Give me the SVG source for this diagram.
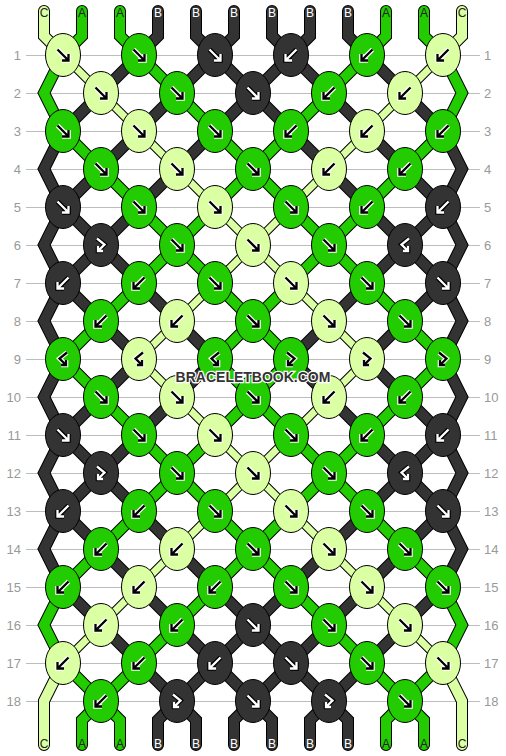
<svg xmlns="http://www.w3.org/2000/svg" width="506" height="756" viewBox="0 0 506 756">
<style>
.grid{stroke:#bdbdbd;stroke-width:1}
.rl{font-family:"Liberation Sans",Arial,sans-serif;font-size:13px;fill:#999}
.tl{font-family:"Liberation Sans",Arial,sans-serif;font-size:12px;text-anchor:middle}
.dk{fill:#222}.wt{fill:#fff}
.ol{fill:none;stroke:#000;stroke-width:12;stroke-linecap:round;stroke-linejoin:miter}
.olt{fill:none;stroke:#000;stroke-width:9;stroke-linecap:round}
.sA{fill:none;stroke:#22cc00;stroke-width:10;stroke-linecap:round;stroke-linejoin:miter}
.sB{fill:none;stroke:#333;stroke-width:10;stroke-linecap:round;stroke-linejoin:miter}
.sC{fill:none;stroke:#dbffa3;stroke-width:10;stroke-linecap:round;stroke-linejoin:miter}
.sCt{fill:none;stroke:#dbffa3;stroke-width:7;stroke-linecap:round}
ellipse{stroke:#000;stroke-width:1}
.kA ellipse{fill:#22cc00}.kB ellipse{fill:#333}.kC ellipse{fill:#dbffa3}
.hl{fill:none;stroke:#fff;stroke-width:4.6}
.ar{fill:none;stroke:#000;stroke-width:2.3}
.kB .hl{stroke:#000}.kB .ar{stroke:#fff}
.wm{font-family:"Liberation Sans",Arial,sans-serif;font-weight:bold;font-size:14px;fill:#333;stroke:#fff;stroke-width:2.5;paint-order:stroke;text-anchor:middle}
</style>
<defs>
<path id="F" d="M-5.5,-5.5 L5.5,5.5 M5.5,-1 L5.5,5.5 L-1,5.5"/>
<path id="B" d="M5.5,-5.5 L-5.5,5.5 M-5.5,-1 L-5.5,5.5 L1,5.5"/>
<path id="FB" d="M-4,-6.5 L3.5,-0.5 L-3,6 M-3,1 L-3,6 L2,6"/>
<path id="BF" d="M4,-6.5 L-3.5,-0.5 L3,6 M3,1 L3,6 L-2,6"/>
<path id="pC" d="M63,55L101,93M443,55L405,93M101,93L139,131M405,93L367,131M139,131L177,169M367,131L329,169M177,169L215,207M329,169L291,207M215,207L253,245M291,207L253,245M253,245L215,283M253,245L291,283M215,283L177,321M291,283L329,321M177,321L139,359M329,321L367,359M139,359L177,397M367,359L329,397M177,397L215,435M329,397L291,435M215,435L253,473M291,435L253,473M253,473L215,511M253,473L291,511M215,511L177,549M291,511L329,549M177,549L139,587M329,549L367,587M139,587L101,625M367,587L405,625M101,625L63,663M405,625L443,663"/>
<path id="pA" d="M139,55L177,93M367,55L329,93M177,93L215,131M329,93L291,131M63,131L101,169M215,131L253,169M291,131L253,169M443,131L405,169M101,169L139,207M253,169L215,207M253,169L291,207M405,169L367,207M139,207L177,245M215,207L177,245M291,207L329,245M367,207L329,245M177,245L139,283M177,245L215,283M329,245L291,283M329,245L367,283M139,283L101,321M215,283L253,321M291,283L253,321M367,283L405,321M101,321L63,359M253,321L215,359M253,321L291,359M405,321L443,359M63,359L101,397M215,359L253,397M291,359L253,397M443,359L405,397M101,397L139,435M253,397L215,435M253,397L291,435M405,397L367,435M139,435L177,473M215,435L177,473M291,435L329,473M367,435L329,473M177,473L139,511M177,473L215,511M329,473L291,511M329,473L367,511M139,511L101,549M215,511L253,549M291,511L253,549M367,511L405,549M101,549L63,587M253,549L215,587M253,549L291,587M405,549L443,587M215,587L177,625M291,587L329,625M177,625L139,663M329,625L367,663M63,663L101,701M139,663L101,701M367,663L405,701M443,663L405,701"/>
<path id="pB" d="M139,55L101,93M215,55L177,93M215,55L253,93M291,55L253,93M291,55L329,93M367,55L405,93M101,93L63,131M177,93L139,131M253,93L215,131M253,93L291,131M329,93L367,131M405,93L443,131M139,131L101,169M215,131L177,169M291,131L329,169M367,131L405,169M101,169L63,207M177,169L139,207M329,169L367,207M405,169L443,207M63,207L101,245M139,207L101,245M367,207L405,245M443,207L405,245M101,245L63,283M101,245L139,283M405,245L367,283M405,245L443,283M63,283L101,321M139,283L177,321M367,283L329,321M443,283L405,321M101,321L139,359M177,321L215,359M329,321L291,359M405,321L367,359M139,359L101,397M215,359L177,397M291,359L329,397M367,359L405,397M101,397L63,435M177,397L139,435M329,397L367,435M405,397L443,435M63,435L101,473M139,435L101,473M367,435L405,473M443,435L405,473M101,473L63,511M101,473L139,511M405,473L367,511M405,473L443,511M63,511L101,549M139,511L177,549M367,511L329,549M443,511L405,549M101,549L139,587M177,549L215,587M329,549L291,587M405,549L367,587M63,587L101,625M139,587L177,625M215,587L253,625M291,587L253,625M367,587L329,625M443,587L405,625M101,625L139,663M177,625L215,663M253,625L215,663M253,625L291,663M329,625L291,663M405,625L367,663M139,663L177,701M215,663L177,701M215,663L253,701M291,663L253,701M291,663L329,701M367,663L329,701"/>
<path id="tA" d="M82,11L82,36L63,55M120,11L120,36L139,55M386,11L386,36L367,55M424,11L424,36L443,55M101,701L82,720L82,745M101,701L120,720L120,745M405,701L386,720L386,745M405,701L424,720L424,745M63,55L44,93L63,131M443,55L462,93L443,131M63,587L44,625L63,663M443,587L462,625L443,663"/>
<path id="tB" d="M158,11L158,36L139,55M196,11L196,36L215,55M234,11L234,36L215,55M272,11L272,36L291,55M310,11L310,36L291,55M348,11L348,36L367,55M177,701L158,720L158,745M177,701L196,720L196,745M253,701L234,720L234,745M253,701L272,720L272,745M329,701L310,720L310,745M329,701L348,720L348,745M63,131L44,169L63,207L44,245L63,283L44,321L63,359L44,397L63,435L44,473L63,511L44,549L63,587M443,131L462,169L443,207L462,245L443,283L462,321L443,359L462,397L443,435L462,473L443,511L462,549L443,587"/>
<path id="tC" d="M44,11L44,36L63,55M462,11L462,36L443,55M63,663L44,701L44,745M443,663L462,701L462,745"/>
</defs>
<g id="grid">
<path class="grid" d="M26,55.5H480M26,93.5H480M26,131.5H480M26,169.5H480M26,207.5H480M26,245.5H480M26,283.5H480M26,321.5H480M26,359.5H480M26,397.5H480M26,435.5H480M26,473.5H480M26,511.5H480M26,549.5H480M26,587.5H480M26,625.5H480M26,663.5H480M26,701.5H480"/>
<g class="rl" text-anchor="end">
<text x="21" y="60">1</text><text x="21" y="98">2</text><text x="21" y="136">3</text><text x="21" y="174">4</text><text x="21" y="212">5</text><text x="21" y="250">6</text><text x="21" y="288">7</text><text x="21" y="326">8</text><text x="21" y="364">9</text><text x="21" y="402">10</text><text x="21" y="440">11</text><text x="21" y="478">12</text><text x="21" y="516">13</text><text x="21" y="554">14</text><text x="21" y="592">15</text><text x="21" y="630">16</text><text x="21" y="668">17</text><text x="21" y="706">18</text>
</g>
<g class="rl" text-anchor="start">
<text x="484" y="60">1</text><text x="484" y="98">2</text><text x="484" y="136">3</text><text x="484" y="174">4</text><text x="484" y="212">5</text><text x="484" y="250">6</text><text x="484" y="288">7</text><text x="484" y="326">8</text><text x="484" y="364">9</text><text x="484" y="402">10</text><text x="484" y="440">11</text><text x="484" y="478">12</text><text x="484" y="516">13</text><text x="484" y="554">14</text><text x="484" y="592">15</text><text x="484" y="630">16</text><text x="484" y="668">17</text><text x="484" y="706">18</text>
</g>
</g>
<g id="connectors">
<use href="#tA" class="ol"/><use href="#tB" class="ol"/><use href="#tC" class="ol"/>
<use href="#pA" class="ol"/><use href="#pB" class="ol"/><use href="#pC" class="olt"/>
<use href="#tA" class="sA"/><use href="#tB" class="sB"/><use href="#tC" class="sC"/>
<use href="#pA" class="sA"/><use href="#pB" class="sB"/><use href="#pC" class="sCt"/>
</g>
<g id="string-labels">
<text class="tl dk" x="44" y="17">C</text><text class="tl dk" x="82" y="17">A</text><text class="tl dk" x="120" y="17">A</text><text class="tl wt" x="158" y="17">B</text><text class="tl wt" x="196" y="17">B</text><text class="tl wt" x="234" y="17">B</text><text class="tl wt" x="272" y="17">B</text><text class="tl wt" x="310" y="17">B</text><text class="tl wt" x="348" y="17">B</text><text class="tl dk" x="386" y="17">A</text><text class="tl dk" x="424" y="17">A</text><text class="tl dk" x="462" y="17">C</text>
<text class="tl dk" x="44" y="748">C</text><text class="tl dk" x="82" y="748">A</text><text class="tl dk" x="120" y="748">A</text><text class="tl wt" x="158" y="748">B</text><text class="tl wt" x="196" y="748">B</text><text class="tl wt" x="234" y="748">B</text><text class="tl wt" x="272" y="748">B</text><text class="tl wt" x="310" y="748">B</text><text class="tl wt" x="348" y="748">B</text><text class="tl dk" x="386" y="748">A</text><text class="tl dk" x="424" y="748">A</text><text class="tl dk" x="462" y="748">C</text>
</g>
<g id="knots">
<g id="k1-1" class="kC" transform="translate(63,55)"><ellipse rx="17.5" ry="21.5"/><use href="#F" class="hl"/><use href="#F" class="ar"/></g>
<g id="k1-2" class="kA" transform="translate(139,55)"><ellipse rx="17.5" ry="21.5"/><use href="#F" class="hl"/><use href="#F" class="ar"/></g>
<g id="k1-3" class="kB" transform="translate(215,55)"><ellipse rx="17.5" ry="21.5"/><use href="#F" class="hl"/><use href="#F" class="ar"/></g>
<g id="k1-4" class="kB" transform="translate(291,55)"><ellipse rx="17.5" ry="21.5"/><use href="#B" class="hl"/><use href="#B" class="ar"/></g>
<g id="k1-5" class="kA" transform="translate(367,55)"><ellipse rx="17.5" ry="21.5"/><use href="#B" class="hl"/><use href="#B" class="ar"/></g>
<g id="k1-6" class="kC" transform="translate(443,55)"><ellipse rx="17.5" ry="21.5"/><use href="#B" class="hl"/><use href="#B" class="ar"/></g>
<g id="k2-1" class="kC" transform="translate(101,93)"><ellipse rx="17.5" ry="21.5"/><use href="#F" class="hl"/><use href="#F" class="ar"/></g>
<g id="k2-2" class="kA" transform="translate(177,93)"><ellipse rx="17.5" ry="21.5"/><use href="#F" class="hl"/><use href="#F" class="ar"/></g>
<g id="k2-3" class="kB" transform="translate(253,93)"><ellipse rx="17.5" ry="21.5"/><use href="#F" class="hl"/><use href="#F" class="ar"/></g>
<g id="k2-4" class="kA" transform="translate(329,93)"><ellipse rx="17.5" ry="21.5"/><use href="#B" class="hl"/><use href="#B" class="ar"/></g>
<g id="k2-5" class="kC" transform="translate(405,93)"><ellipse rx="17.5" ry="21.5"/><use href="#B" class="hl"/><use href="#B" class="ar"/></g>
<g id="k3-1" class="kA" transform="translate(63,131)"><ellipse rx="17.5" ry="21.5"/><use href="#F" class="hl"/><use href="#F" class="ar"/></g>
<g id="k3-2" class="kC" transform="translate(139,131)"><ellipse rx="17.5" ry="21.5"/><use href="#F" class="hl"/><use href="#F" class="ar"/></g>
<g id="k3-3" class="kA" transform="translate(215,131)"><ellipse rx="17.5" ry="21.5"/><use href="#F" class="hl"/><use href="#F" class="ar"/></g>
<g id="k3-4" class="kA" transform="translate(291,131)"><ellipse rx="17.5" ry="21.5"/><use href="#B" class="hl"/><use href="#B" class="ar"/></g>
<g id="k3-5" class="kC" transform="translate(367,131)"><ellipse rx="17.5" ry="21.5"/><use href="#B" class="hl"/><use href="#B" class="ar"/></g>
<g id="k3-6" class="kA" transform="translate(443,131)"><ellipse rx="17.5" ry="21.5"/><use href="#B" class="hl"/><use href="#B" class="ar"/></g>
<g id="k4-1" class="kA" transform="translate(101,169)"><ellipse rx="17.5" ry="21.5"/><use href="#F" class="hl"/><use href="#F" class="ar"/></g>
<g id="k4-2" class="kC" transform="translate(177,169)"><ellipse rx="17.5" ry="21.5"/><use href="#F" class="hl"/><use href="#F" class="ar"/></g>
<g id="k4-3" class="kA" transform="translate(253,169)"><ellipse rx="17.5" ry="21.5"/><use href="#F" class="hl"/><use href="#F" class="ar"/></g>
<g id="k4-4" class="kC" transform="translate(329,169)"><ellipse rx="17.5" ry="21.5"/><use href="#B" class="hl"/><use href="#B" class="ar"/></g>
<g id="k4-5" class="kA" transform="translate(405,169)"><ellipse rx="17.5" ry="21.5"/><use href="#B" class="hl"/><use href="#B" class="ar"/></g>
<g id="k5-1" class="kB" transform="translate(63,207)"><ellipse rx="17.5" ry="21.5"/><use href="#F" class="hl"/><use href="#F" class="ar"/></g>
<g id="k5-2" class="kA" transform="translate(139,207)"><ellipse rx="17.5" ry="21.5"/><use href="#F" class="hl"/><use href="#F" class="ar"/></g>
<g id="k5-3" class="kC" transform="translate(215,207)"><ellipse rx="17.5" ry="21.5"/><use href="#F" class="hl"/><use href="#F" class="ar"/></g>
<g id="k5-4" class="kA" transform="translate(291,207)"><ellipse rx="17.5" ry="21.5"/><use href="#F" class="hl"/><use href="#F" class="ar"/></g>
<g id="k5-5" class="kA" transform="translate(367,207)"><ellipse rx="17.5" ry="21.5"/><use href="#B" class="hl"/><use href="#B" class="ar"/></g>
<g id="k5-6" class="kB" transform="translate(443,207)"><ellipse rx="17.5" ry="21.5"/><use href="#B" class="hl"/><use href="#B" class="ar"/></g>
<g id="k6-1" class="kB" transform="translate(101,245)"><ellipse rx="17.5" ry="21.5"/><use href="#FB" class="hl"/><use href="#FB" class="ar"/></g>
<g id="k6-2" class="kA" transform="translate(177,245)"><ellipse rx="17.5" ry="21.5"/><use href="#F" class="hl"/><use href="#F" class="ar"/></g>
<g id="k6-3" class="kC" transform="translate(253,245)"><ellipse rx="17.5" ry="21.5"/><use href="#F" class="hl"/><use href="#F" class="ar"/></g>
<g id="k6-4" class="kA" transform="translate(329,245)"><ellipse rx="17.5" ry="21.5"/><use href="#F" class="hl"/><use href="#F" class="ar"/></g>
<g id="k6-5" class="kB" transform="translate(405,245)"><ellipse rx="17.5" ry="21.5"/><use href="#BF" class="hl"/><use href="#BF" class="ar"/></g>
<g id="k7-1" class="kB" transform="translate(63,283)"><ellipse rx="17.5" ry="21.5"/><use href="#B" class="hl"/><use href="#B" class="ar"/></g>
<g id="k7-2" class="kA" transform="translate(139,283)"><ellipse rx="17.5" ry="21.5"/><use href="#B" class="hl"/><use href="#B" class="ar"/></g>
<g id="k7-3" class="kA" transform="translate(215,283)"><ellipse rx="17.5" ry="21.5"/><use href="#F" class="hl"/><use href="#F" class="ar"/></g>
<g id="k7-4" class="kC" transform="translate(291,283)"><ellipse rx="17.5" ry="21.5"/><use href="#F" class="hl"/><use href="#F" class="ar"/></g>
<g id="k7-5" class="kA" transform="translate(367,283)"><ellipse rx="17.5" ry="21.5"/><use href="#F" class="hl"/><use href="#F" class="ar"/></g>
<g id="k7-6" class="kB" transform="translate(443,283)"><ellipse rx="17.5" ry="21.5"/><use href="#F" class="hl"/><use href="#F" class="ar"/></g>
<g id="k8-1" class="kA" transform="translate(101,321)"><ellipse rx="17.5" ry="21.5"/><use href="#B" class="hl"/><use href="#B" class="ar"/></g>
<g id="k8-2" class="kC" transform="translate(177,321)"><ellipse rx="17.5" ry="21.5"/><use href="#B" class="hl"/><use href="#B" class="ar"/></g>
<g id="k8-3" class="kA" transform="translate(253,321)"><ellipse rx="17.5" ry="21.5"/><use href="#F" class="hl"/><use href="#F" class="ar"/></g>
<g id="k8-4" class="kC" transform="translate(329,321)"><ellipse rx="17.5" ry="21.5"/><use href="#F" class="hl"/><use href="#F" class="ar"/></g>
<g id="k8-5" class="kA" transform="translate(405,321)"><ellipse rx="17.5" ry="21.5"/><use href="#F" class="hl"/><use href="#F" class="ar"/></g>
<g id="k9-1" class="kA" transform="translate(63,359)"><ellipse rx="17.5" ry="21.5"/><use href="#BF" class="hl"/><use href="#BF" class="ar"/></g>
<g id="k9-2" class="kC" transform="translate(139,359)"><ellipse rx="17.5" ry="21.5"/><use href="#BF" class="hl"/><use href="#BF" class="ar"/></g>
<g id="k9-3" class="kA" transform="translate(215,359)"><ellipse rx="17.5" ry="21.5"/><use href="#BF" class="hl"/><use href="#BF" class="ar"/></g>
<g id="k9-4" class="kA" transform="translate(291,359)"><ellipse rx="17.5" ry="21.5"/><use href="#FB" class="hl"/><use href="#FB" class="ar"/></g>
<g id="k9-5" class="kC" transform="translate(367,359)"><ellipse rx="17.5" ry="21.5"/><use href="#FB" class="hl"/><use href="#FB" class="ar"/></g>
<g id="k9-6" class="kA" transform="translate(443,359)"><ellipse rx="17.5" ry="21.5"/><use href="#FB" class="hl"/><use href="#FB" class="ar"/></g>
<g id="k10-1" class="kA" transform="translate(101,397)"><ellipse rx="17.5" ry="21.5"/><use href="#F" class="hl"/><use href="#F" class="ar"/></g>
<g id="k10-2" class="kC" transform="translate(177,397)"><ellipse rx="17.5" ry="21.5"/><use href="#F" class="hl"/><use href="#F" class="ar"/></g>
<g id="k10-3" class="kA" transform="translate(253,397)"><ellipse rx="17.5" ry="21.5"/><use href="#F" class="hl"/><use href="#F" class="ar"/></g>
<g id="k10-4" class="kC" transform="translate(329,397)"><ellipse rx="17.5" ry="21.5"/><use href="#B" class="hl"/><use href="#B" class="ar"/></g>
<g id="k10-5" class="kA" transform="translate(405,397)"><ellipse rx="17.5" ry="21.5"/><use href="#B" class="hl"/><use href="#B" class="ar"/></g>
<g id="k11-1" class="kB" transform="translate(63,435)"><ellipse rx="17.5" ry="21.5"/><use href="#F" class="hl"/><use href="#F" class="ar"/></g>
<g id="k11-2" class="kA" transform="translate(139,435)"><ellipse rx="17.5" ry="21.5"/><use href="#F" class="hl"/><use href="#F" class="ar"/></g>
<g id="k11-3" class="kC" transform="translate(215,435)"><ellipse rx="17.5" ry="21.5"/><use href="#F" class="hl"/><use href="#F" class="ar"/></g>
<g id="k11-4" class="kA" transform="translate(291,435)"><ellipse rx="17.5" ry="21.5"/><use href="#F" class="hl"/><use href="#F" class="ar"/></g>
<g id="k11-5" class="kA" transform="translate(367,435)"><ellipse rx="17.5" ry="21.5"/><use href="#B" class="hl"/><use href="#B" class="ar"/></g>
<g id="k11-6" class="kB" transform="translate(443,435)"><ellipse rx="17.5" ry="21.5"/><use href="#B" class="hl"/><use href="#B" class="ar"/></g>
<g id="k12-1" class="kB" transform="translate(101,473)"><ellipse rx="17.5" ry="21.5"/><use href="#FB" class="hl"/><use href="#FB" class="ar"/></g>
<g id="k12-2" class="kA" transform="translate(177,473)"><ellipse rx="17.5" ry="21.5"/><use href="#F" class="hl"/><use href="#F" class="ar"/></g>
<g id="k12-3" class="kC" transform="translate(253,473)"><ellipse rx="17.5" ry="21.5"/><use href="#F" class="hl"/><use href="#F" class="ar"/></g>
<g id="k12-4" class="kA" transform="translate(329,473)"><ellipse rx="17.5" ry="21.5"/><use href="#F" class="hl"/><use href="#F" class="ar"/></g>
<g id="k12-5" class="kB" transform="translate(405,473)"><ellipse rx="17.5" ry="21.5"/><use href="#BF" class="hl"/><use href="#BF" class="ar"/></g>
<g id="k13-1" class="kB" transform="translate(63,511)"><ellipse rx="17.5" ry="21.5"/><use href="#B" class="hl"/><use href="#B" class="ar"/></g>
<g id="k13-2" class="kA" transform="translate(139,511)"><ellipse rx="17.5" ry="21.5"/><use href="#B" class="hl"/><use href="#B" class="ar"/></g>
<g id="k13-3" class="kA" transform="translate(215,511)"><ellipse rx="17.5" ry="21.5"/><use href="#F" class="hl"/><use href="#F" class="ar"/></g>
<g id="k13-4" class="kC" transform="translate(291,511)"><ellipse rx="17.5" ry="21.5"/><use href="#F" class="hl"/><use href="#F" class="ar"/></g>
<g id="k13-5" class="kA" transform="translate(367,511)"><ellipse rx="17.5" ry="21.5"/><use href="#F" class="hl"/><use href="#F" class="ar"/></g>
<g id="k13-6" class="kB" transform="translate(443,511)"><ellipse rx="17.5" ry="21.5"/><use href="#F" class="hl"/><use href="#F" class="ar"/></g>
<g id="k14-1" class="kA" transform="translate(101,549)"><ellipse rx="17.5" ry="21.5"/><use href="#B" class="hl"/><use href="#B" class="ar"/></g>
<g id="k14-2" class="kC" transform="translate(177,549)"><ellipse rx="17.5" ry="21.5"/><use href="#B" class="hl"/><use href="#B" class="ar"/></g>
<g id="k14-3" class="kA" transform="translate(253,549)"><ellipse rx="17.5" ry="21.5"/><use href="#F" class="hl"/><use href="#F" class="ar"/></g>
<g id="k14-4" class="kC" transform="translate(329,549)"><ellipse rx="17.5" ry="21.5"/><use href="#F" class="hl"/><use href="#F" class="ar"/></g>
<g id="k14-5" class="kA" transform="translate(405,549)"><ellipse rx="17.5" ry="21.5"/><use href="#F" class="hl"/><use href="#F" class="ar"/></g>
<g id="k15-1" class="kA" transform="translate(63,587)"><ellipse rx="17.5" ry="21.5"/><use href="#B" class="hl"/><use href="#B" class="ar"/></g>
<g id="k15-2" class="kC" transform="translate(139,587)"><ellipse rx="17.5" ry="21.5"/><use href="#B" class="hl"/><use href="#B" class="ar"/></g>
<g id="k15-3" class="kA" transform="translate(215,587)"><ellipse rx="17.5" ry="21.5"/><use href="#B" class="hl"/><use href="#B" class="ar"/></g>
<g id="k15-4" class="kA" transform="translate(291,587)"><ellipse rx="17.5" ry="21.5"/><use href="#F" class="hl"/><use href="#F" class="ar"/></g>
<g id="k15-5" class="kC" transform="translate(367,587)"><ellipse rx="17.5" ry="21.5"/><use href="#F" class="hl"/><use href="#F" class="ar"/></g>
<g id="k15-6" class="kA" transform="translate(443,587)"><ellipse rx="17.5" ry="21.5"/><use href="#F" class="hl"/><use href="#F" class="ar"/></g>
<g id="k16-1" class="kC" transform="translate(101,625)"><ellipse rx="17.5" ry="21.5"/><use href="#B" class="hl"/><use href="#B" class="ar"/></g>
<g id="k16-2" class="kA" transform="translate(177,625)"><ellipse rx="17.5" ry="21.5"/><use href="#B" class="hl"/><use href="#B" class="ar"/></g>
<g id="k16-3" class="kB" transform="translate(253,625)"><ellipse rx="17.5" ry="21.5"/><use href="#F" class="hl"/><use href="#F" class="ar"/></g>
<g id="k16-4" class="kA" transform="translate(329,625)"><ellipse rx="17.5" ry="21.5"/><use href="#F" class="hl"/><use href="#F" class="ar"/></g>
<g id="k16-5" class="kC" transform="translate(405,625)"><ellipse rx="17.5" ry="21.5"/><use href="#F" class="hl"/><use href="#F" class="ar"/></g>
<g id="k17-1" class="kC" transform="translate(63,663)"><ellipse rx="17.5" ry="21.5"/><use href="#B" class="hl"/><use href="#B" class="ar"/></g>
<g id="k17-2" class="kA" transform="translate(139,663)"><ellipse rx="17.5" ry="21.5"/><use href="#B" class="hl"/><use href="#B" class="ar"/></g>
<g id="k17-3" class="kB" transform="translate(215,663)"><ellipse rx="17.5" ry="21.5"/><use href="#B" class="hl"/><use href="#B" class="ar"/></g>
<g id="k17-4" class="kB" transform="translate(291,663)"><ellipse rx="17.5" ry="21.5"/><use href="#F" class="hl"/><use href="#F" class="ar"/></g>
<g id="k17-5" class="kA" transform="translate(367,663)"><ellipse rx="17.5" ry="21.5"/><use href="#F" class="hl"/><use href="#F" class="ar"/></g>
<g id="k17-6" class="kC" transform="translate(443,663)"><ellipse rx="17.5" ry="21.5"/><use href="#F" class="hl"/><use href="#F" class="ar"/></g>
<g id="k18-1" class="kA" transform="translate(101,701)"><ellipse rx="17.5" ry="21.5"/><use href="#B" class="hl"/><use href="#B" class="ar"/></g>
<g id="k18-2" class="kB" transform="translate(177,701)"><ellipse rx="17.5" ry="21.5"/><use href="#FB" class="hl"/><use href="#FB" class="ar"/></g>
<g id="k18-3" class="kB" transform="translate(253,701)"><ellipse rx="17.5" ry="21.5"/><use href="#F" class="hl"/><use href="#F" class="ar"/></g>
<g id="k18-4" class="kB" transform="translate(329,701)"><ellipse rx="17.5" ry="21.5"/><use href="#FB" class="hl"/><use href="#FB" class="ar"/></g>
<g id="k18-5" class="kA" transform="translate(405,701)"><ellipse rx="17.5" ry="21.5"/><use href="#F" class="hl"/><use href="#F" class="ar"/></g>
</g>
<text id="watermark" class="wm" x="253" y="382">BRACELETBOOK.COM</text>
</svg>
